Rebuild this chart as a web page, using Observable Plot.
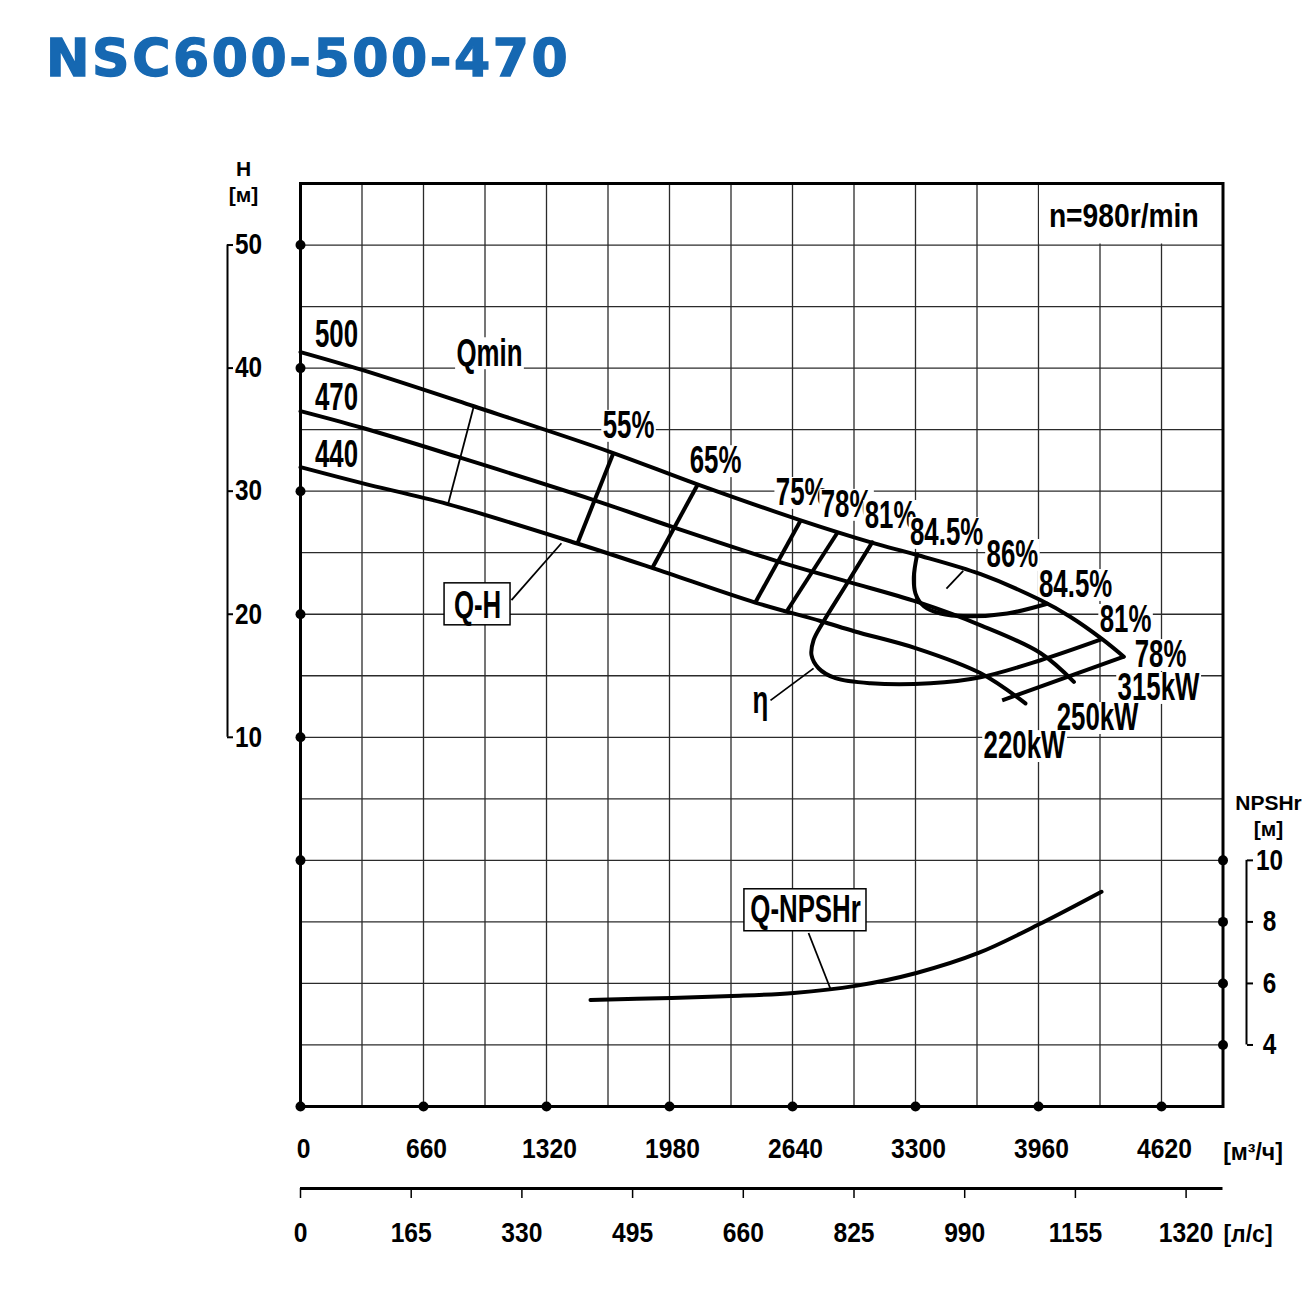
<!DOCTYPE html>
<html>
<head>
<meta charset="utf-8">
<script src="https://cdn.jsdelivr.net/npm/d3@7"></script>
<script src="https://cdn.jsdelivr.net/npm/@observablehq/plot@0.6"></script>
<style>
  body { margin: 0; background: #fff; }
  #title { position: relative; height: 110px; }
  #title span {
    position: absolute; left: 46px; top: 32px;
    font: bold 52px/52px "DejaVu Sans", sans-serif;
    letter-spacing: 2.6px; color: #1668b2; white-space: nowrap;
    -webkit-text-stroke: 1.4px #1668b2;
  }
  #chart svg { display: block; }
</style>
</head>
<body>
<div id="title"><span>NSC600-500-470</span></div>
<div id="chart"></div>
<script>
// Flow Q in m³/h, head H in m, NPSHr in m.
const Q_TICKS = [0, 660, 1320, 1980, 2640, 3300, 3960, 4620];
const LS_TICKS = [0, 165, 330, 495, 660, 825, 990, 1155, 1320];
const H_TICKS = [10, 20, 30, 40, 50];
const H_DOTS = [0, 10, 20, 30, 40, 50];
const NPSH_TICKS = [4, 6, 8, 10];
const Q_GRID = d3.range(0, 4951, 330);
const H_GRID = d3.range(-20, 56, 5);

// Q-H curves for the three impeller diameters
const qh500 = [[0, 41.3], [330, 39.85], [930, 36.9], [1660, 33.2], [2130, 30.55], [2680, 27.65], [3070, 25.8], [3300, 24.85], [3650, 23.25], [3970, 21.15], [4130, 19.8], [4300, 18.0], [4418, 16.55]];
const qh470 = [[0, 36.5], [330, 35.15], [840, 32.8], [1570, 29.3], [1995, 27.1], [2560, 24.3], [2935, 22.65], [3310, 21.0], [3650, 19.1], [3970, 16.85], [4150, 14.5]];
const qh440 = [[0, 31.95], [330, 30.65], [790, 28.95], [1485, 25.75], [1890, 23.75], [2440, 20.95], [2790, 19.45], [2975, 18.6], [3300, 17.25], [3650, 15.2], [3890, 12.75]];

// iso-efficiency lines
const eff55 = [[1680, 33.15], [1486, 25.75]];
const eff65 = [[2130, 30.5], [1889, 23.8]];
const eff75 = [[2683, 27.6], [2442, 21.0]];
const eff78 = [[2880, 26.6], [2612, 20.3]];
const eff81 = [[3068, 25.85], [2930, 22.44], [2801, 19.27], [2753, 17.89], [2742, 16.67], [2780, 15.61], [2871, 14.8], [3059, 14.39], [3380, 14.39], [3649, 14.88], [3971, 16.26], [4296, 17.95]];
const eff845 = [[3309, 24.85], [3291, 23.03], [3300, 21.68], [3345, 20.65], [3434, 20.06], [3577, 19.84], [3792, 20.06], [4007, 20.85]];
const eff86 = [[3466, 22.09], [3556, 23.52]];
const endLine = [[4418, 16.55], [3765, 13.0]];
const qMin = [[930, 36.9], [791, 28.9]];

// NPSHr curve
const npsh = [[1556, 5.46], [1991, 5.53], [2313, 5.59], [2646, 5.69], [2978, 5.92], [3305, 6.34], [3638, 6.99], [3966, 7.93], [4298, 8.98]];
const toH = (v) => (v - 10) * 2.5; // NPSHr scale sits on the lower part of the head axis

// leader lines to labels
const qhLeader = [[1132, 21.14], [1400, 25.77]];
const etaLeader = [[2522, 13.0], [2753, 15.6]];
const npshLeader = [[2726, 7.64], [2844, 5.82]];

const curveLabels = [
  {t: "500", q: 193, h: 42.68},
  {t: "470", q: 193, h: 37.55},
  {t: "440", q: 193, h: 32.94},
  {t: "Qmin", q: 1014, h: 41.2},
  {t: "55%", q: 1760, h: 35.3},
  {t: "65%", q: 2227, h: 32.43},
  {t: "75%", q: 2689, h: 29.85},
  {t: "78%", q: 2930, h: 28.88},
  {t: "81%", q: 3166, h: 27.98},
  {t: "84.5%", q: 3467, h: 26.6},
  {t: "86%", q: 3820, h: 24.81},
  {t: "84.5%", q: 4159, h: 22.37},
  {t: "81%", q: 4427, h: 19.53},
  {t: "78%", q: 4615, h: 16.68},
  {t: "315kW", q: 4604, h: 14.0},
  {t: "250kW", q: 4277, h: 11.56},
  {t: "220kW", q: 3885, h: 9.28},
  {t: "η", q: 2468, h: 13.0}
];
const boxLabels = [
  {t: "Q-H", q: 950, h: 20.66, q1: 773, q2: 1127, h1: 19.1, h2: 22.51},
  {t: "Q-NPSHr", q: 2710, h: -4.05, q1: 2382, q2: 3037, h1: -5.76, h2: -2.35}
];

const FONT = "Liberation Sans, Arial, sans-serif";
const bold = {fontWeight: "bold", fontFamily: FONT, fill: "black"};
const P = (d) => d[0], V = (d) => d[1];
const thick = {x: P, y: V, stroke: "black", strokeWidth: 4, curve: "catmull-rom"};
const straight = {x: P, y: V, stroke: "black", strokeWidth: 4, strokeLinecap: "butt"};
const thin = {x: P, y: V, stroke: "black", strokeWidth: 1.8, strokeLinecap: "butt"};

// lettering sizes (px); each size also selects a horizontal squeeze below
const FS_LABEL = 38, FS_SPEED = 34, FS_SCALE = 29, FS_AXIS = 28, FS_UNIT = 23, FS_TITLE = 21;

const chart = Plot.plot({
  width: 1310,
  height: 1185,
  marginLeft: 300,
  marginRight: 87.5,
  marginTop: 73,
  marginBottom: 189,
  x: {domain: [0, 4950], label: null},
  y: {domain: [-20, 55], label: null},
  style: {background: "white", overflow: "visible"},
  marks: [
    Plot.ruleX(Q_GRID, {stroke: "#2b2b2b", strokeWidth: 1.3}),
    Plot.ruleY(H_GRID, {stroke: "#2b2b2b", strokeWidth: 1.3}),
    Plot.rect([0], {x1: 3960, x2: 4950, y1: 50, y2: 55, fill: "white", inset: 1}),
    Plot.frame({stroke: "black", strokeWidth: 3}),

    Plot.text(curveLabels, {x: "q", y: "h", text: "t", fontSize: FS_LABEL, ...bold}),
    Plot.text(["n=980r/min"], {x: 4455, y: 52.36, dx: -7, fontSize: FS_SPEED, ...bold}),

    Plot.line(qh500, thick),
    Plot.line(qh470, thick),
    Plot.line(qh440, thick),
    Plot.line(eff55, straight),
    Plot.line(eff65, straight),
    Plot.line(eff75, straight),
    Plot.line(eff78, straight),
    Plot.line(eff81, thick),
    Plot.line(eff845, thick),
    Plot.line(endLine, straight),
    Plot.line(eff86, thin),
    Plot.line(qMin, thin),
    Plot.line(qhLeader, thin),
    Plot.line(etaLeader, thin),
    Plot.line(npshLeader, {...thin, y: (d) => toH(d[1])}),
    Plot.line(npsh, {...thick, y: (d) => toH(d[1])}),

    Plot.rect(boxLabels, {x1: "q1", x2: "q2", y1: "h1", y2: "h2", fill: "white", stroke: "black", strokeWidth: 1.5}),
    Plot.text(boxLabels, {x: "q", y: "h", text: "t", fontSize: FS_LABEL, ...bold}),

    // frame dots
    Plot.dot(H_DOTS, {x: 0, y: (d) => d, r: 5, fill: "black"}),
    Plot.dot(NPSH_TICKS, {x: 4950, y: toH, r: 5, fill: "black"}),
    Plot.dot(Q_TICKS, {x: (d) => d, y: -20, r: 5, fill: "black"}),

    // head scale
    Plot.ruleX([0], {y1: 10, y2: 50, dx: -73, stroke: "black", strokeWidth: 2}),
    Plot.axisY({anchor: "left", ticks: H_TICKS, tickSize: 6, dx: -67, fill: "none", strokeWidth: 2, label: null}),
    Plot.text(H_TICKS, {x: 0, y: (d) => d, text: (d) => `${d}`, dx: -52, fontSize: FS_SCALE, ...bold}),
    Plot.text(["H"], {frameAnchor: "top-left", textAnchor: "middle", lineAnchor: "middle", dx: -57, dy: -14, fontSize: FS_TITLE, ...bold}),
    Plot.text(["[м]"], {frameAnchor: "top-left", textAnchor: "middle", lineAnchor: "middle", dx: -57, dy: 12, fontSize: FS_TITLE, ...bold}),

    // NPSHr scale
    Plot.ruleX([4950], {y1: -15, y2: 0, dx: 23.5, stroke: "black", strokeWidth: 2}),
    Plot.axisY({anchor: "right", ticks: NPSH_TICKS.map(toH), tickSize: 6, dx: 23.5, fill: "none", strokeWidth: 2, label: null}),
    Plot.text(NPSH_TICKS, {x: 4950, y: toH, text: (d) => `${d}`, dx: 46.5, fontSize: FS_SCALE, ...bold}),
    Plot.text(["NPSHr"], {x: 4950, y: 0, dx: 45.5, dy: -57, fontSize: FS_TITLE, ...bold}),
    Plot.text(["[м]"], {x: 4950, y: 0, dx: 45.5, dy: -31, fontSize: FS_TITLE, ...bold}),

    // flow scales: m³/h and l/s
    Plot.axisX({ticks: Q_TICKS, tickFormat: (d) => `${d}`, tickSize: 0, tickPadding: 32, dx: 3, fontSize: FS_AXIS, fontWeight: "bold", fontFamily: FONT, label: null}),
    Plot.ruleY([-20], {dy: 82, stroke: "black", strokeWidth: 3}),
    Plot.axisX({ticks: LS_TICKS.map((v) => v * 3.6), tickFormat: (d) => `${Math.round(d / 3.6)}`, tickSize: 10, tickPadding: 24, dy: 82, strokeWidth: 1.5, fontSize: FS_AXIS, fontWeight: "bold", fontFamily: FONT, label: null}),
    Plot.text(["[м³/ч]"], {x: 4950, y: -20, dx: 30, dy: 46, fontSize: FS_UNIT, ...bold}),
    Plot.text(["[л/с]"], {x: 4950, y: -20, dx: 25, dy: 128, fontSize: FS_UNIT, ...bold})
  ]
});

document.getElementById("chart").append(chart);

// condensed lettering: squeeze glyphs horizontally, keyed by font size;
// curve labels also get a white backing so grid lines stop at the text
const squeeze = {
  [FS_LABEL]: {s: 0.68, mask: true},
  [FS_SPEED]: {s: 0.83},
  [FS_SCALE]: {s: 0.84},
  [FS_AXIS]: {s: 0.88}
};
chart.querySelectorAll("text").forEach((t) => {
  const fs = parseFloat(getComputedStyle(t).fontSize);
  const cfg = squeeze[fs];
  if (!cfg) return;
  const tr = t.getAttribute("transform") || "";
  t.setAttribute("transform", `${tr} scale(${cfg.s},1)`);
  if (cfg.mask) {
    const bb = t.getBBox();
    const r = document.createElementNS("http://www.w3.org/2000/svg", "rect");
    r.setAttribute("x", bb.x - 2);
    r.setAttribute("y", bb.y + 0.15 * fs);
    r.setAttribute("width", bb.width + 4);
    r.setAttribute("height", 0.84 * fs);
    r.setAttribute("fill", "white");
    r.setAttribute("stroke", "none");
    r.setAttribute("transform", t.getAttribute("transform"));
    t.parentNode.insertBefore(r, t);
  }
});
</script>
</body>
</html>
